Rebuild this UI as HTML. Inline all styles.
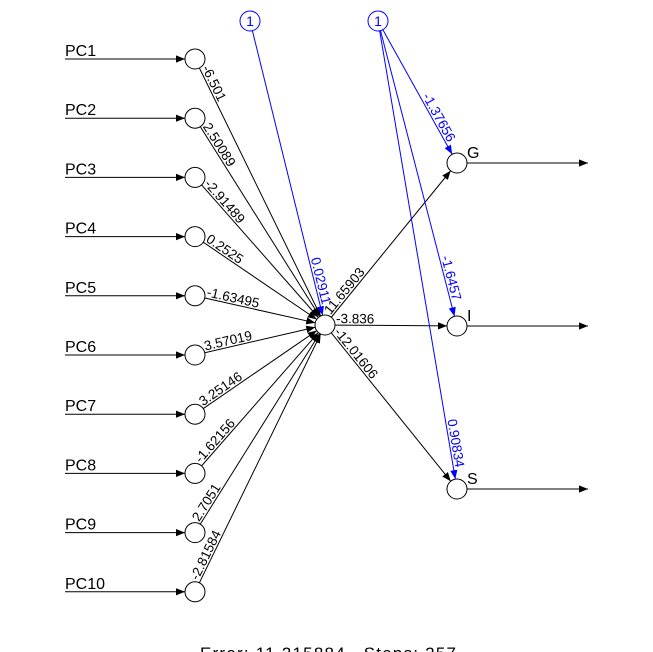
<!DOCTYPE html>
<html><head><meta charset="utf-8"><style>
body{margin:0;background:#fff}
svg{display:block;font-family:"Liberation Sans",Arial,sans-serif}
</style></head><body>
<svg id="nn" width="653" height="652" viewBox="0 0 653 652" xmlns="http://www.w3.org/2000/svg">
<defs>
<marker id="ab" viewBox="0 0 10 10" refX="10" refY="5" markerWidth="9" markerHeight="9" markerUnits="userSpaceOnUse" orient="auto"><path d="M0,1 L10,5 L0,9 z" fill="#000"/></marker>
<marker id="abb" viewBox="0 0 10 10" refX="10" refY="5" markerWidth="9" markerHeight="9" markerUnits="userSpaceOnUse" orient="auto"><path d="M0,1 L10,5 L0,9 z" fill="#00f"/></marker>
</defs>
<text x="200" y="659" font-size="17" style="white-space:pre" textLength="256">Error: 11.215884   Steps: 257</text>
</svg>
<script>
const inputNames=["PC1","PC2","PC3","PC4","PC5","PC6","PC7","PC8","PC9","PC10"];
const inputWeights=["-6.501","2.50089","-2.91489","0.2525","-1.63495","3.57019","3.25146","-1.62156","2.7051","-2.81584"];
const hiddenBias=["0.02911"];
const outputNames=["G","I","S"];
const outputWeights=["11.65903","-3.836","-12.01606"];
const outputBias=["-1.37656","-1.6457","0.90834"];
const svg=document.getElementById('nn');
const NS='http://www.w3.org/2000/svg';
const R=10;
const inX=195, inY0=59, inStep=59.2;
const hid={x:325,y:325};
const b1={x:250,y:21}, b2={x:378,y:21};
const outX=457, outYs=[163,326,489];
const lineLayer=document.createElementNS(NS,'g');svg.appendChild(lineLayer);
const nodeLayer=document.createElementNS(NS,'g');svg.appendChild(nodeLayer);
const textLayer=document.createElementNS(NS,'g');svg.appendChild(textLayer);
function mk(t,a,par){const e=document.createElementNS(NS,t);for(const k in a)e.setAttribute(k,a[k]);(par||lineLayer).appendChild(e);return e;}
function edge(p,q,col,name,label,atEnd,dist){
  const dx=q.x-p.x,dy=q.y-p.y,L=Math.hypot(dx,dy),ux=dx/L,uy=dy/L;
  const l=mk('line',{x1:p.x+ux*R,y1:p.y+uy*R,x2:q.x-ux*R,y2:q.y-uy*R,stroke:col,'stroke-width':1,'marker-end':col=='#000'?'url(#ab)':'url(#abb)'});
  
  
  const ang=Math.atan2(dy,dx)*180/Math.PI;
  let cx,cy,anchor;
  if(!atEnd){cx=p.x+ux*dist;cy=p.y+uy*dist;anchor='start';}
  else{cx=q.x-ux*dist;cy=q.y-uy*dist;anchor='end';}
  const t=mk('text',{x:0,y:-2,'font-size':13.5,fill:col,'text-anchor':anchor,transform:`translate(${cx},${cy}) rotate(${ang})`},textLayer);
  t.textContent=label;
  
  
}
function node(c,col,name,txt){
  const e=mk('circle',{cx:c.x,cy:c.y,r:R,fill:'#fff',stroke:col,'stroke-width':1},nodeLayer);
  
  
  if(txt){const t=mk('text',{x:c.x,y:c.y+5,'text-anchor':'middle','font-size':14,fill:col},nodeLayer);t.textContent=txt;
    
    }
}
inputNames.forEach((n,i)=>{
  const y=inY0+i*inStep;
  const l=mk('line',{x1:65,y1:y,x2:inX-R,y2:y,stroke:'#000','marker-end':'url(#ab)'});
  
  
  const t=mk('text',{x:65,y:y-3,'font-size':16},textLayer);t.textContent=n;
  
  
  edge({x:inX,y:y},hid,'#000','edge-'+n.toLowerCase()+'-hidden',inputWeights[i],false,R+1);
});
edge(b1,hid,'#00f','edge-bias-hidden',hiddenBias[0],true,20);
outputNames.forEach((n,i)=>{
  const o={x:outX,y:outYs[i]};
  edge(hid,o,'#000','edge-hidden-'+n.toLowerCase(),outputWeights[i],false,R+1);
  edge(b2,o,'#00f','edge-bias-'+n.toLowerCase(),outputBias[i],true,[22,25,21][i]);
  const l=mk('line',{x1:outX+R,y1:o.y,x2:588,y2:o.y,stroke:'#000','marker-end':'url(#ab)'});
  
  
  const t=mk('text',{x:outX+10,y:o.y-5,'font-size':16},textLayer);t.textContent=n;
  
  
});
inputNames.forEach((n,i)=>node({x:inX,y:inY0+i*inStep},'#000','input-node-'+n.toLowerCase()));
node(hid,'#000','hidden-node');
node(b1,'#00f','bias-node-hidden','1');
node(b2,'#00f','bias-node-output','1');
outputNames.forEach((n,i)=>node({x:outX,y:outYs[i]},'#000','output-node-'+n.toLowerCase()));
</script>
</body></html>
